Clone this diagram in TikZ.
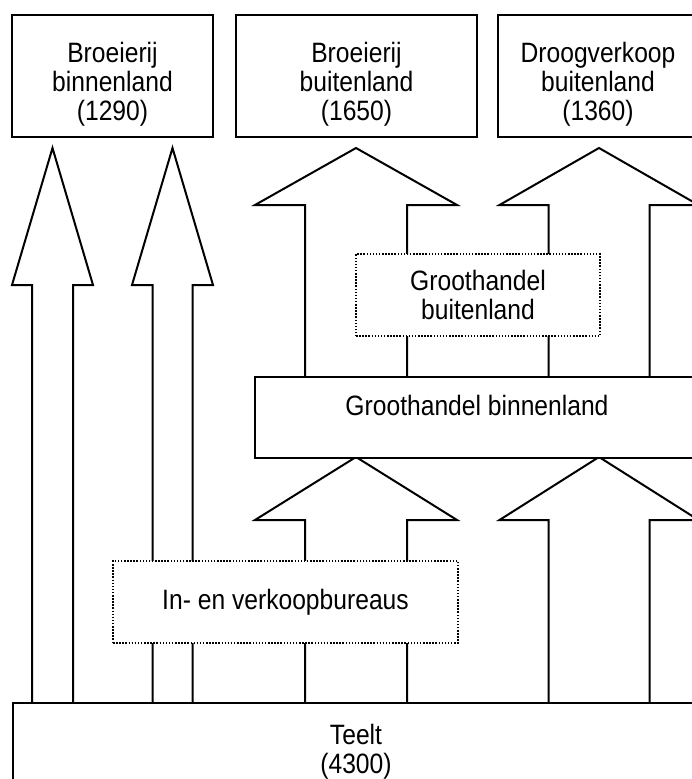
\documentclass[tikz,border=0pt]{standalone}
\usepackage{fontspec}
\setmainfont{Liberation Sans}[FakeStretch=0.88]
\newcommand\blockarr[6]{%
  \draw[arrowline] (#1-#5,#4) -- (#1-#5,#3) -- (#1-#6,#3) -- (#1,#2)
    -- (#1+#6,#3) -- (#1+#5,#3) -- (#1+#5,#4);}
\newcommand\shiftedtext[2]{\raisebox{#1}[0pt][0pt]{\begin{tabular}{@{}c@{}}#2\end{tabular}}}
\begin{document}
\begin{tikzpicture}[x=1pt,y=-1pt,
  lbl/.style={font=\fontsize{28}{28.5}\selectfont, align=center, inner sep=0pt},
  solidbox/.style={lbl, draw, line width=2pt, fill=white},
  dotbox/.style={lbl, draw, line width=1.5pt, dash pattern=on 1.5pt off 1.6pt, fill=white},
  arrowline/.style={draw, line width=2pt, line join=miter}]
\useasboundingbox (0,0) rectangle (692,779);
\clip (0,0) rectangle (692,779);
% block arrows
\blockarr{52.5}{148}{285}{703}{20.5}{40.5}
\blockarr{172.5}{148}{285}{703}{20}{40.5}
\blockarr{356}{148}{205}{377}{51}{101}
\blockarr{599}{148}{205}{377}{50.5}{99.5}
\blockarr{356}{457}{520}{703}{51}{101}
\blockarr{599}{457}{520}{703}{50.5}{99.5}
% boxes
\node[solidbox, minimum width=201pt, minimum height=122pt] (b1) at (112.5,76) {\shiftedtext{-16pt}{Broeierij\\binnenland\\(1290)}};
\node[solidbox, minimum width=241pt, minimum height=122pt] (b2) at (356.5,76) {\shiftedtext{-16pt}{Broeierij\\buitenland\\(1650)}};
\node[solidbox, minimum width=200pt, minimum height=122pt] (b3) at (598,76) {\shiftedtext{-16pt}{Droogverkoop\\buitenland\\(1360)}};
\node[dotbox, minimum width=244pt, minimum height=82pt] (gbu) at (478,295) {Groothandel\\buitenland};
\node[solidbox, minimum width=444pt, minimum height=81pt, text depth=24pt] (gbi) at (477,417.5) {Groothandel binnenland};
\node[dotbox, minimum width=345pt, minimum height=82pt] (ivb) at (285.5,602) {In- en verkoopbureaus};
\node[solidbox, minimum width=686pt, minimum height=97pt] (teelt) at (356,751.5) {Teelt\\(4300)};
\end{tikzpicture}
\end{document}
